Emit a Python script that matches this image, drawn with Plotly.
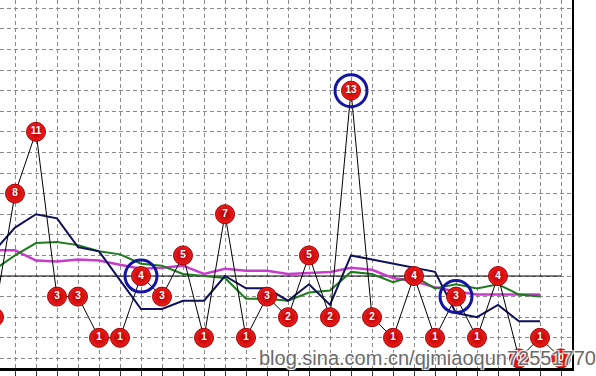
import plotly.graph_objects as go

# ---- data ----
periods = list(range(0, 28))
values = [2, 8, 11, 3, 3, 1, 1, 4, 3, 5, 1, 7, 1, 3, 2, 5, 2, 13, 2, 1, 4, 1, 3, 1, 4, 0, 1, 0]
ma_navy = [5.2, 6.35, 7.0, 6.8, 5.4, 5.2, 3.8, 2.4, 2.4, 2.8, 2.8, 4.0, 3.4, 3.4, 2.8,
           3.6, 2.6, 5.0, 4.8, 4.6, 4.4, 4.2, 2.2, 2.0, 2.6, 1.8, 1.8]
ma_green = [4.3, 5.0, 5.6, 5.65, 5.5, 5.2, 5.05, 4.6, 4.5, 4.1, 4.0, 3.9, 2.9, 2.9, 2.8,
            3.2, 3.3, 4.2, 4.1, 3.7, 4.0, 3.4, 3.6, 3.4, 3.6, 3.1, 3.0]
ma_magenta = [5.25, 5.25, 4.75, 4.7, 4.8, 4.75, 4.55, 4.35, 4.4, 4.5, 4.1, 4.35, 4.25, 4.25, 4.1,
              4.15, 4.2, 4.4, 4.3, 3.9, 3.75, 3.45, 3.25, 3.1, 3.1, 3.1, 3.1]
circled_idx = [7, 17, 22]
base_level = 4
watermark = "blog.sina.com.cn/qjmiaoqun72551770"

labels = [str(v) for v in values]
ma_x = periods[:len(ma_navy)]

fig = go.Figure()

# base reference line
fig.add_trace(go.Scatter(x=[periods[0], periods[-1]], y=[base_level, base_level], mode="lines",
                         line=dict(color="black", width=1), hoverinfo="skip"))

fig.add_trace(go.Scatter(x=ma_x, y=ma_magenta, mode="lines",
                         line=dict(color="#c83ccc", width=2.5)))
fig.add_trace(go.Scatter(x=ma_x, y=ma_green, mode="lines",
                         line=dict(color="#1f7a1f", width=2)))
fig.add_trace(go.Scatter(x=ma_x, y=ma_navy, mode="lines",
                         line=dict(color="#10105a", width=2)))

# value line with numbered balls
fig.add_trace(go.Scatter(
    x=periods, y=values, mode="lines+markers+text", text=labels,
    textposition="middle center",
    textfont=dict(family="Liberation Sans, Arial", size=10, color="white", weight="bold"),
    line=dict(color="black", width=1),
    marker=dict(size=19, color="#ee1c1c", line=dict(color="#a00000", width=1),
                gradient=dict(type="radial", color="#b40000")),
))

# blue rings
fig.add_trace(go.Scatter(
    x=[periods[i] for i in circled_idx], y=[values[i] for i in circled_idx],
    mode="markers",
    marker=dict(symbol="circle-open", size=32, color="#1414a0", line=dict(width=3, color="#1414a0")),
))

fig.add_annotation(
    text=watermark, xref="paper", yref="paper", x=598 / 572, y=0.028,
    xanchor="right", yanchor="middle", showarrow=False,
    font=dict(family="Liberation Sans, Arial", size=20, color="#6a6a6a",
              shadow="1px 1px 1px white, -1px -1px 1px white, 1px -1px 1px white, -1px 1px 1px white"),
)

fig.update_layout(
    width=596, height=376,
    margin=dict(l=0, r=24, t=0, b=8),
    paper_bgcolor="white", plot_bgcolor="white",
    showlegend=False,
)
fig.update_xaxes(
    range=[0.2857, 27.524], dtick=1, tick0=0,
    showgrid=True, gridcolor="#8a8a8a", griddash="4px,3px", gridwidth=1,
    showticklabels=False, zeroline=False,
    showline=True, linecolor="black", linewidth=3,
    ticks="outside", ticklen=6, tickcolor="#333", tickwidth=1,
)
fig.update_yaxes(
    range=[-0.466, 17.40], dtick=1, tick0=0,
    showgrid=True, gridcolor="#8a8a8a", griddash="4px,3px", gridwidth=1,
    showticklabels=False, zeroline=False,
    showline=True, linecolor="black", linewidth=2, side="right", ticks="",
)

fig.write_html("out.html", config={"displayModeBar": False},
               post_script="document.body.style.margin='0';document.body.style.overflow='hidden';")
